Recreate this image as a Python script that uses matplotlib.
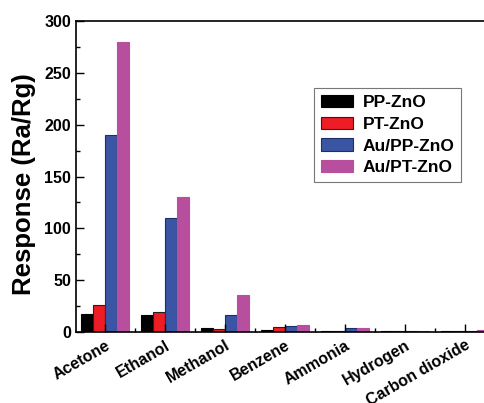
import numpy as np
import matplotlib as mpl
import matplotlib.pyplot as plt

mpl.rcParams['font.family'] = ['Liberation Sans', 'DejaVu Sans']
mpl.rcParams['font.weight'] = 'bold'

gases = ['Acetone', 'Ethanol', 'Methanol', 'Benzene', 'Ammonia', 'Hydrogen', 'Carbon dioxide']
pp_zno = [17, 16, 3.5, 2, 1, 0.8, 0.8]
pt_zno = [26, 19, 2.5, 4.5, 1, 0.8, 0.8]
au_pp_zno = [190, 110, 16, 5.5, 3.5, 1, 1.5]
au_pt_zno = [280, 130, 36, 7, 3.5, 1, 2]

series = [('PP-ZnO', pp_zno, '#000000', '#000000'),
          ('PT-ZnO', pt_zno, '#ee1c25', '#222222'),
          ('Au/PP-ZnO', au_pp_zno, '#3a55a4', '#1e2f66'),
          ('Au/PT-ZnO', au_pt_zno, '#b74f9e', '#b74f9e')]

f = plt.figure(figsize=(4.84, 4.03), dpi=100)
ax = f.add_axes([0.157, 0.176, 0.843, 0.772])

x = np.arange(len(gases))
w = 0.2
for i, (name, vals, fc, ec) in enumerate(series):
    ax.bar(x + (i - 1.5) * w, vals, w, color=fc, edgecolor=ec, linewidth=0.8, label=name)

ax.set_xlim(-0.49, 6.31)
ax.set_ylim(0, 300)
ax.set_yticks([0, 50, 100, 150, 200, 250, 300])
ax.set_yticks([25, 75, 125, 175, 225, 275], minor=True)
ax.set_xticks(x)
ax.set_xticks(x[:-1] + 0.5, minor=True)
ax.set_xticklabels(gases, rotation=30, ha='right', rotation_mode='anchor', fontsize=11.5, fontweight='bold')
ax.tick_params(axis='both', which='major', direction='in', length=6, width=1, labelsize=11.5)
ax.tick_params(axis='both', which='minor', direction='in', length=3, width=1)
ax.tick_params(axis='x', which='major', pad=4, labelsize=11.5)
for lab in ax.get_yticklabels():
    lab.set_fontweight('bold')

ax.spines['right'].set_visible(False)
for s in ['top', 'left', 'bottom']:
    ax.spines[s].set_linewidth(1.2)

ax.set_ylabel('Response (Ra/Rg)', fontsize=18.5, fontweight='bold')
ax.yaxis.set_label_coords(-0.097, 0.475)

leg = ax.legend(loc='upper left', bbox_to_anchor=(314 / 484, 1 - 88 / 403), bbox_transform=f.transFigure,
                borderaxespad=0, fontsize=12.5, frameon=True, fancybox=False, edgecolor='#555555',
                handlelength=1.85, handleheight=0.7, handletextpad=0.55, borderpad=0.4, labelspacing=0.38)
leg.get_frame().set_linewidth(0.8)
for t in leg.get_texts():
    t.set_fontweight('bold')

f.savefig('out.png', dpi=100, facecolor='white')
